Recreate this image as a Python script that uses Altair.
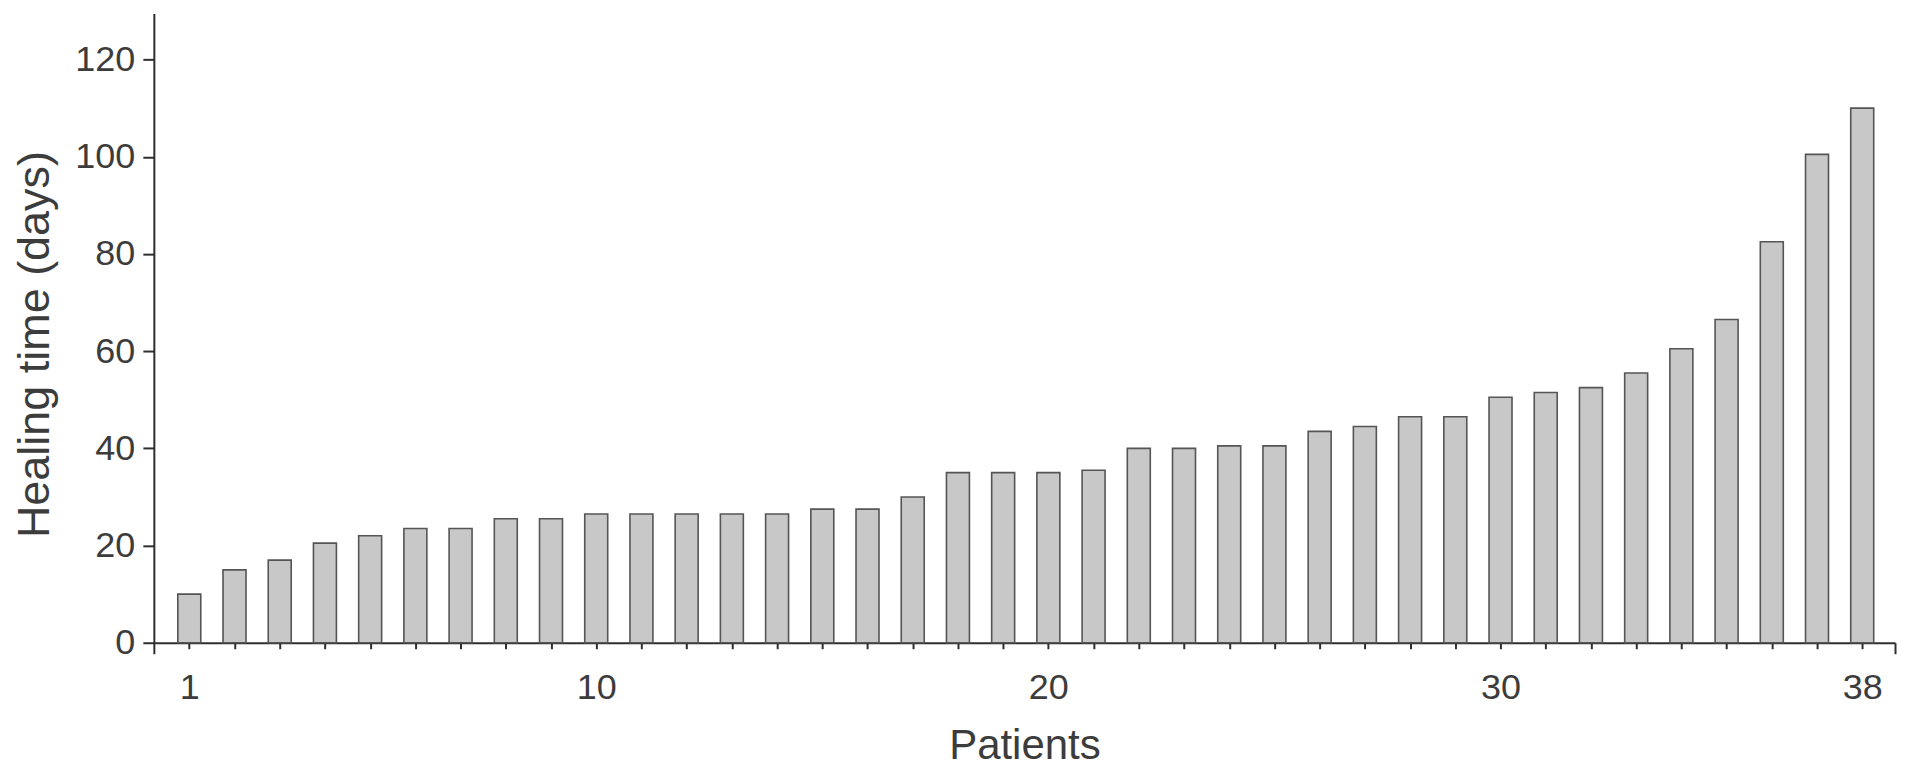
import altair as alt
import pandas as pd

patients = list(range(1, 39))
healing_days = [10, 15, 17, 20.5, 22, 23.5, 23.5, 25.5, 25.5, 26.5,
                26.5, 26.5, 26.5, 26.5, 27.5, 27.5, 30, 35, 35, 35,
                35.5, 40, 40, 40.5, 40.5, 43.5, 44.5, 46.5, 46.5, 50.5,
                51.5, 52.5, 55.5, 60.5, 66.5, 82.5, 100.5, 110]
x_labels = [1, 10, 20, 30, 38]
y_ticks = [0, 20, 40, 60, 80, 100, 120]
x_domain = [0.216, 38.725]
y_domain = [0, 129.5]

df = pd.DataFrame({"patient": patients, "days": healing_days})

font = "Liberation Sans"
text_color = "#3c3c3c"
axis_color = "#2e2e2e"

x_tick_values = [x_domain[0]] + patients + [x_domain[1]]
label_test = "indexof([" + ",".join(str(v) for v in x_labels) + "], datum.value) >= 0"

chart = alt.Chart(df).mark_bar(
    size=23, fill="#c8c8c8", stroke="#555555", strokeWidth=1.6
).encode(
    x=alt.X(
        "patient:Q",
        scale=alt.Scale(domain=x_domain, nice=False, zero=False, padding=0),
        axis=alt.Axis(
            title="Patients",
            values=x_tick_values,
            labelExpr=label_test + " ? datum.label : ''",
            grid=False,
            domainColor=axis_color,
            domainWidth=2,
            tickColor=axis_color,
            tickWidth=2,
            tickSize={"condition": {"test": "datum.value < 1 || datum.value > 38", "value": 11}, "value": 6},
            labelFont=font,
            labelFontSize=36,
            labelColor=text_color,
            labelPadding=22,
            labelFlush=False,
            labelOverlap=False,
            titleFont=font,
            titleFontSize=42,
            titleFontWeight="normal",
            titleColor=text_color,
            titlePadding=15,
        ),
    ),
    y=alt.Y(
        "days:Q",
        scale=alt.Scale(domain=y_domain, nice=False),
        axis=alt.Axis(
            title="Healing time (days)",
            values=y_ticks,
            grid=False,
            domainColor=axis_color,
            domainWidth=2,
            tickColor=axis_color,
            tickWidth=2,
            tickSize=11,
            labelFont=font,
            labelFontSize=36,
            labelColor=text_color,
            labelPadding=8,
            labelFlush=False,
            titleFont=font,
            titleFontSize=45,
            titleFontWeight="normal",
            titleColor=text_color,
            titlePadding=17,
            titleY=331,
        ),
    ),
).properties(
    width=1743,
    height=630,
    padding={"left": 146, "top": 5, "right": 10, "bottom": 130},
    autosize="none",
).configure_view(stroke=None)

chart.save("out.html", embed_options={"renderer": "svg", "actions": False})
